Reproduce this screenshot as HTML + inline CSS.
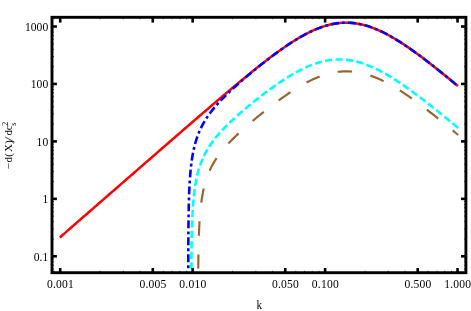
<!DOCTYPE html>
<html><head><meta charset="utf-8"><title>plot</title>
<style>
html,body{margin:0;padding:0;background:#fff;}
body{width:471px;height:311px;overflow:hidden;}
svg{display:block;}
text{font-family:"Liberation Serif",serif;font-size:11.6px;fill:#000;}
</style></head><body>
<svg width="471" height="311" viewBox="0 0 471 311">
<rect x="0" y="0" width="471" height="311" fill="#fff"/>
<defs><clipPath id="c"><rect x="52.0" y="17.3" width="413.9" height="251.5"/></clipPath></defs>
<g clip-path="url(#c)" fill="none" stroke-width="2" stroke-linejoin="round">
<path d="M59.80,237.44 L62.30,235.26 L64.81,233.08 L67.31,230.89 L69.82,228.71 L72.32,226.53 L74.82,224.35 L77.33,222.17 L79.83,219.99 L82.33,217.80 L84.84,215.62 L87.34,213.44 L89.85,211.26 L92.35,209.08 L94.85,206.90 L97.36,204.71 L99.86,202.53 L102.36,200.35 L104.87,198.17 L107.37,195.99 L109.88,193.81 L112.38,191.63 L114.88,189.45 L117.39,187.27 L119.89,185.09 L122.39,182.91 L124.90,180.73 L127.40,178.55 L129.91,176.37 L132.41,174.19 L134.91,172.01 L137.42,169.83 L139.92,167.65 L142.42,165.47 L144.93,163.29 L147.43,161.11 L149.94,158.94 L152.44,156.76 L154.94,154.58 L157.45,152.41 L159.95,150.23 L162.45,148.05 L164.96,145.88 L167.46,143.71 L169.97,141.53 L172.47,139.36 L174.97,137.19 L177.48,135.02 L179.98,132.85 L182.48,130.68 L184.99,128.52 L187.49,126.35 L190.00,124.19 L192.50,122.02 L195.00,119.86 L197.51,117.71 L200.01,115.55 L202.52,113.40 L205.02,111.24 L207.52,109.10 L210.03,106.95 L212.53,104.81 L215.03,102.67 L217.54,100.53 L220.04,98.40 L222.55,96.28 L225.05,94.16 L227.55,92.04 L230.06,89.93 L232.56,87.83 L235.06,85.73 L237.57,83.65 L240.07,81.57 L242.58,79.50 L245.08,77.43 L247.58,75.38 L250.09,73.35 L252.59,71.32 L255.09,69.31 L257.60,67.31 L260.10,65.33 L262.61,63.36 L265.11,61.42 L267.61,59.49 L270.12,57.59 L272.62,55.71 L275.12,53.86 L277.63,52.03 L280.13,50.23 L282.64,48.47 L285.14,46.74 L287.64,45.04 L290.15,43.38 L292.65,41.77 L295.15,40.20 L297.66,38.68 L300.16,37.20 L302.67,35.78 L305.17,34.42 L307.67,33.12 L310.18,31.87 L312.68,30.70 L315.18,29.59 L317.69,28.56 L320.19,27.60 L322.70,26.72 L325.20,25.91 L327.70,25.20 L330.21,24.56 L332.71,24.02 L335.22,23.57 L337.72,23.20 L340.22,22.93 L342.73,22.76 L345.23,22.68 L347.73,22.69 L350.24,22.80 L352.74,23.00 L355.25,23.29 L357.75,23.68 L360.25,24.16 L362.76,24.73 L365.26,25.38 L367.76,26.12 L370.27,26.94 L372.77,27.84 L375.28,28.82 L377.78,29.87 L380.28,31.00 L382.79,32.19 L385.29,33.44 L387.79,34.76 L390.30,36.13 L392.80,37.56 L395.31,39.04 L397.81,40.58 L400.31,42.15 L402.82,43.77 L405.32,45.43 L407.82,47.13 L410.33,48.87 L412.83,50.63 L415.34,52.43 L417.84,54.26 L420.34,56.11 L422.85,57.99 L425.35,59.89 L427.85,61.81 L430.36,63.75 L432.86,65.71 L435.37,67.69 L437.87,69.68 L440.37,71.69 L442.88,73.71 L445.38,75.74 L447.88,77.78 L450.39,79.84 L452.89,81.90 L455.40,83.97 L457.90,86.05" stroke="#f00" stroke-width="2.5"/>
<path d="M188.25,268.80 L188.25,268.79 L188.25,268.73 L188.25,268.58 L188.25,268.27 L188.25,267.78 L188.25,267.06 L188.25,266.09 L188.25,264.86 L188.26,263.36 L188.26,261.61 L188.27,259.62 L188.27,257.43 L188.28,255.07 L188.29,252.57 L188.30,249.97 L188.31,247.29 L188.32,244.57 L188.34,241.82 L188.35,239.08 L188.37,236.34 L188.39,233.64 L188.41,230.96 L188.44,228.33 L188.46,225.74 L188.49,223.20 L188.52,220.71 L188.55,218.28 L188.59,215.90 L188.63,213.58 L188.67,211.30 L188.71,209.08 L188.76,206.91 L188.80,204.80 L188.86,202.73 L188.91,200.70 L188.97,198.73 L189.03,196.79 L189.10,194.91 L189.17,193.06 L189.24,191.25 L189.32,189.48 L189.40,187.75 L189.48,186.05 L189.57,184.39 L189.66,182.76 L189.76,181.17 L189.86,179.60 L189.96,178.07 L190.07,176.56 L190.19,175.09 L190.31,173.64 L190.43,172.21 L190.56,170.81 L190.69,169.44 L190.83,168.09 L190.98,166.76 L191.12,165.45 L191.28,164.16 L191.44,162.90 L191.60,161.65 L191.77,160.43 L191.95,159.22 L192.13,158.03 L192.32,156.86 L192.51,155.70 L192.71,154.57 L192.92,153.44 L193.13,152.34 L193.35,151.24 L193.58,150.16 L193.81,149.10 L194.05,148.05 L194.29,147.01 L194.54,145.99 L194.80,144.97 L195.07,143.97 L195.34,142.98 L195.62,142.00 L195.91,141.04 L196.20,140.08 L196.50,139.13 L196.81,138.19 L197.13,137.26 L197.46,136.34 L197.79,135.43 L198.13,134.53 L198.48,133.64 L198.84,132.75 L199.20,131.87 L199.57,131.00 L199.96,130.13 L200.35,129.28 L200.74,128.42 L201.15,127.58 L201.57,126.74 L201.99,125.90 L202.43,125.07 L202.87,124.25 L203.32,123.43 L203.78,122.61 L204.26,121.80 L204.74,120.99 L205.23,120.18 L205.72,119.38 L206.23,118.58 L206.75,117.79 L207.28,117.00 L207.82,116.20 L208.37,115.42 L208.93,114.63 L209.50,113.84 L210.08,113.06 L210.67,112.27 L211.27,111.49 L211.88,110.71 L212.50,109.92 L213.13,109.14 L213.78,108.36 L214.43,107.58 L215.10,106.79 L215.77,106.01 L216.46,105.22 L217.16,104.43 L217.87,103.64 L218.59,102.85 L219.33,102.05 L220.07,101.26 L220.83,100.46 L221.60,99.65 L222.38,98.85 L223.18,98.04 L223.98,97.22 L224.80,96.41 L225.63,95.58 L226.48,94.76 L227.33,93.93 L228.20,93.09 L229.08,92.25 L229.98,91.41 L230.88,90.56 L231.80,89.70 L232.74,88.84 L233.68,87.97 L234.64,87.09 L235.62,86.21 L236.60,85.33 L237.60,84.43 L238.62,83.53 L239.64,82.63 L240.69,81.71 L241.74,80.79 L242.81,79.87 L243.90,78.93 L244.99,77.99 L246.11,77.04 L247.23,76.08 L248.38,75.12 L249.53,74.15 L250.70,73.17 L251.89,72.19 L253.09,71.19 L254.31,70.19 L255.54,69.19 L256.78,68.17 L258.04,67.15 L259.32,66.12 L260.61,65.09 L261.92,64.05 L263.24,63.00 L264.58,61.95 L265.94,60.89 L267.31,59.83 L268.70,58.76 L270.10,57.69 L271.52,56.61 L272.96,55.53 L274.41,54.45 L275.88,53.36 L277.36,52.28 L278.86,51.19 L280.38,50.10 L281.92,49.01 L283.47,47.92 L285.04,46.83 L286.63,45.75 L288.23,44.67 L289.85,43.60 L291.49,42.53 L293.15,41.47 L294.82,40.42 L296.51,39.38 L298.22,38.35 L299.95,37.34 L301.69,36.34 L303.46,35.35 L305.24,34.39 L307.04,33.45 L308.86,32.53 L310.69,31.63 L312.55,30.76 L314.42,29.92 L316.32,29.12 L318.23,28.35 L320.16,27.61 L322.11,26.92 L324.08,26.27 L326.06,25.66 L328.07,25.10 L330.10,24.59 L332.14,24.14 L334.21,23.74 L336.29,23.40 L338.40,23.12 L340.52,22.91 L342.67,22.76 L344.83,22.68 L347.02,22.68 L349.22,22.74 L351.45,22.88 L353.69,23.10 L355.96,23.39 L358.25,23.77 L360.55,24.22 L362.88,24.76 L365.23,25.37 L367.60,26.07 L369.99,26.85 L372.41,27.71 L374.84,28.65 L377.29,29.66 L379.77,30.76 L382.27,31.94 L384.79,33.19 L387.33,34.51 L389.89,35.91 L392.48,37.38 L395.09,38.91 L397.72,40.52 L400.37,42.19 L403.04,43.92 L405.74,45.71 L408.46,47.57 L411.20,49.48 L413.96,51.44 L416.75,53.46 L419.56,55.53 L422.39,57.64 L425.24,59.81 L428.12,62.02 L431.02,64.27 L433.95,66.57 L436.90,68.91 L439.87,71.28 L442.87,73.70 L445.88,76.15 L448.93,78.64 L451.99,81.16 L455.09,83.71 L458.20,86.30" stroke="#00f" stroke-width="2.6" stroke-dasharray="7.9 3.1 2.85 3.1" stroke-dashoffset="10.335"/>
<path d="M191.37,268.80 L191.37,268.80 L191.37,268.78 L191.37,268.73 L191.37,268.63 L191.37,268.46 L191.37,268.22 L191.38,267.88 L191.38,267.45 L191.38,266.89 L191.39,266.22 L191.39,265.42 L191.40,264.50 L191.40,263.44 L191.41,262.27 L191.42,260.99 L191.43,259.59 L191.45,258.10 L191.46,256.52 L191.48,254.87 L191.49,253.16 L191.51,251.39 L191.53,249.58 L191.56,247.74 L191.58,245.87 L191.61,243.99 L191.64,242.10 L191.67,240.21 L191.71,238.32 L191.75,236.44 L191.79,234.58 L191.83,232.72 L191.87,230.88 L191.92,229.07 L191.97,227.27 L192.03,225.50 L192.09,223.75 L192.15,222.02 L192.21,220.32 L192.28,218.65 L192.35,217.00 L192.43,215.38 L192.51,213.78 L192.59,212.20 L192.68,210.66 L192.77,209.13 L192.87,207.63 L192.97,206.16 L193.07,204.70 L193.18,203.27 L193.29,201.87 L193.41,200.48 L193.53,199.12 L193.66,197.78 L193.79,196.46 L193.93,195.15 L194.07,193.87 L194.22,192.61 L194.37,191.36 L194.53,190.14 L194.69,188.93 L194.86,187.74 L195.03,186.56 L195.21,185.40 L195.40,184.26 L195.59,183.13 L195.79,182.02 L195.99,180.92 L196.20,179.83 L196.42,178.76 L196.64,177.70 L196.87,176.66 L197.10,175.63 L197.35,174.61 L197.59,173.60 L197.85,172.60 L198.11,171.62 L198.38,170.65 L198.66,169.68 L198.94,168.73 L199.23,167.78 L199.53,166.85 L199.84,165.93 L200.15,165.01 L200.47,164.10 L200.80,163.20 L201.14,162.31 L201.48,161.43 L201.84,160.56 L202.20,159.69 L202.57,158.83 L202.94,157.97 L203.33,157.12 L203.72,156.28 L204.13,155.45 L204.54,154.61 L204.96,153.79 L205.39,152.97 L205.83,152.15 L206.27,151.34 L206.73,150.54 L207.19,149.74 L207.67,148.94 L208.15,148.14 L208.65,147.35 L209.15,146.56 L209.66,145.78 L210.19,145.00 L210.72,144.21 L211.26,143.44 L211.81,142.66 L212.37,141.88 L212.95,141.11 L213.53,140.34 L214.12,139.57 L214.73,138.80 L215.34,138.02 L215.97,137.25 L216.60,136.48 L217.25,135.71 L217.91,134.94 L218.58,134.17 L219.26,133.39 L219.95,132.62 L220.65,131.84 L221.37,131.07 L222.09,130.29 L222.83,129.50 L223.58,128.72 L224.34,127.93 L225.11,127.14 L225.90,126.35 L226.69,125.55 L227.50,124.75 L228.32,123.95 L229.16,123.14 L230.00,122.33 L230.86,121.52 L231.73,120.70 L232.62,119.87 L233.51,119.04 L234.42,118.21 L235.35,117.37 L236.28,116.53 L237.23,115.68 L238.19,114.82 L239.17,113.96 L240.16,113.10 L241.16,112.22 L242.17,111.35 L243.20,110.46 L244.25,109.57 L245.31,108.68 L246.38,107.78 L247.46,106.87 L248.56,105.95 L249.68,105.03 L250.80,104.11 L251.95,103.18 L253.11,102.24 L254.28,101.30 L255.46,100.35 L256.67,99.39 L257.88,98.43 L259.11,97.47 L260.36,96.50 L261.62,95.52 L262.90,94.54 L264.19,93.56 L265.50,92.57 L266.82,91.58 L268.16,90.58 L269.52,89.59 L270.89,88.59 L272.28,87.59 L273.68,86.59 L275.10,85.58 L276.53,84.58 L277.99,83.58 L279.45,82.58 L280.94,81.58 L282.44,80.59 L283.96,79.60 L285.49,78.61 L287.04,77.64 L288.61,76.66 L290.20,75.70 L291.80,74.75 L293.42,73.81 L295.06,72.88 L296.71,71.97 L298.38,71.07 L300.07,70.19 L301.78,69.33 L303.51,68.49 L305.25,67.67 L307.01,66.88 L308.79,66.12 L310.59,65.38 L312.40,64.68 L314.23,64.01 L316.09,63.38 L317.96,62.78 L319.85,62.23 L321.75,61.72 L323.68,61.25 L325.63,60.83 L327.59,60.46 L329.58,60.15 L331.58,59.89 L333.60,59.69 L335.64,59.55 L337.70,59.46 L339.78,59.45 L341.88,59.49 L344.00,59.61 L346.14,59.79 L348.30,60.05 L350.48,60.37 L352.68,60.77 L354.90,61.24 L357.14,61.78 L359.40,62.40 L361.68,63.09 L363.99,63.85 L366.31,64.69 L368.65,65.61 L371.01,66.59 L373.40,67.65 L375.80,68.78 L378.23,69.97 L380.68,71.24 L383.15,72.57 L385.64,73.97 L388.15,75.43 L390.68,76.96 L393.24,78.54 L395.82,80.19 L398.42,81.89 L401.04,83.65 L403.68,85.46 L406.34,87.32 L409.03,89.23 L411.74,91.19 L414.47,93.20 L417.23,95.25 L420.00,97.35 L422.80,99.49 L425.63,101.67 L428.47,103.89 L431.34,106.15 L434.23,108.44 L437.14,110.77 L440.08,113.14 L443.04,115.53 L446.03,117.97 L449.03,120.43 L452.07,122.92 L455.12,125.45 L458.20,128.00" stroke="#0ff" stroke-width="2.6" stroke-dasharray="7.2 3.27" stroke-dashoffset="0.66"/>
<path d="M198.25,268.80 L198.25,268.80 L198.25,268.79 L198.25,268.76 L198.25,268.70 L198.25,268.60 L198.25,268.45 L198.25,268.25 L198.25,267.98 L198.26,267.64 L198.26,267.23 L198.27,266.73 L198.27,266.14 L198.28,265.46 L198.29,264.70 L198.30,263.84 L198.31,262.90 L198.32,261.87 L198.33,260.77 L198.35,259.58 L198.37,258.33 L198.38,257.02 L198.41,255.65 L198.43,254.24 L198.45,252.78 L198.48,251.29 L198.51,249.76 L198.54,248.22 L198.57,246.65 L198.61,245.07 L198.65,243.49 L198.69,241.90 L198.74,240.30 L198.78,238.71 L198.83,237.13 L198.89,235.55 L198.94,233.98 L199.00,232.43 L199.07,230.88 L199.13,229.35 L199.20,227.84 L199.28,226.34 L199.35,224.86 L199.44,223.39 L199.52,221.94 L199.61,220.51 L199.70,219.10 L199.80,217.71 L199.90,216.33 L200.01,214.97 L200.12,213.63 L200.23,212.31 L200.35,211.01 L200.47,209.72 L200.60,208.45 L200.74,207.20 L200.87,205.96 L201.02,204.74 L201.17,203.54 L201.32,202.35 L201.48,201.18 L201.64,200.02 L201.81,198.88 L201.99,197.76 L202.17,196.65 L202.36,195.55 L202.55,194.46 L202.75,193.39 L202.95,192.33 L203.16,191.29 L203.38,190.26 L203.60,189.24 L203.83,188.23 L204.07,187.23 L204.31,186.25 L204.56,185.27 L204.81,184.31 L205.08,183.35 L205.35,182.41 L205.62,181.47 L205.91,180.55 L206.20,179.64 L206.50,178.73 L206.80,177.83 L207.11,176.94 L207.43,176.06 L207.76,175.19 L208.10,174.32 L208.44,173.46 L208.79,172.61 L209.15,171.77 L209.52,170.93 L209.90,170.10 L210.28,169.27 L210.67,168.45 L211.07,167.64 L211.48,166.83 L211.90,166.03 L212.33,165.23 L212.76,164.43 L213.21,163.64 L213.66,162.85 L214.12,162.07 L214.60,161.29 L215.08,160.52 L215.57,159.74 L216.07,158.97 L216.58,158.21 L217.09,157.44 L217.62,156.68 L218.16,155.92 L218.71,155.16 L219.27,154.40 L219.84,153.64 L220.41,152.89 L221.00,152.13 L221.60,151.37 L222.21,150.62 L222.83,149.86 L223.46,149.11 L224.10,148.35 L224.75,147.59 L225.42,146.84 L226.09,146.08 L226.77,145.32 L227.47,144.55 L228.18,143.79 L228.89,143.02 L229.62,142.25 L230.37,141.48 L231.12,140.70 L231.88,139.92 L232.66,139.14 L233.45,138.36 L234.25,137.57 L235.06,136.78 L235.88,135.98 L236.72,135.18 L237.57,134.37 L238.43,133.56 L239.30,132.75 L240.19,131.93 L241.09,131.10 L242.00,130.27 L242.92,129.43 L243.86,128.59 L244.81,127.74 L245.77,126.89 L246.75,126.03 L247.74,125.17 L248.74,124.29 L249.76,123.42 L250.79,122.53 L251.83,121.64 L252.89,120.74 L253.96,119.84 L255.05,118.93 L256.15,118.02 L257.26,117.09 L258.39,116.17 L259.53,115.23 L260.69,114.29 L261.86,113.34 L263.04,112.39 L264.24,111.43 L265.46,110.47 L266.69,109.50 L267.93,108.52 L269.19,107.54 L270.47,106.56 L271.76,105.57 L273.06,104.58 L274.38,103.58 L275.72,102.58 L277.07,101.58 L278.43,100.57 L279.82,99.57 L281.22,98.56 L282.63,97.55 L284.06,96.54 L285.51,95.54 L286.97,94.53 L288.45,93.53 L289.94,92.53 L291.45,91.53 L292.98,90.54 L294.53,89.56 L296.09,88.58 L297.67,87.62 L299.26,86.66 L300.87,85.71 L302.50,84.78 L304.15,83.86 L305.81,82.96 L307.49,82.08 L309.19,81.21 L310.90,80.37 L312.64,79.55 L314.39,78.76 L316.16,77.99 L317.94,77.25 L319.75,76.55 L321.57,75.87 L323.41,75.24 L325.27,74.64 L327.15,74.09 L329.04,73.57 L330.96,73.11 L332.89,72.69 L334.84,72.32 L336.81,72.01 L338.80,71.75 L340.81,71.55 L342.84,71.41 L344.88,71.33 L346.95,71.31 L349.03,71.36 L351.14,71.48 L353.26,71.67 L355.40,71.93 L357.56,72.26 L359.75,72.66 L361.95,73.13 L364.17,73.68 L366.41,74.30 L368.68,75.00 L370.96,75.77 L373.26,76.61 L375.58,77.53 L377.93,78.52 L380.29,79.59 L382.68,80.72 L385.08,81.92 L387.51,83.19 L389.96,84.53 L392.42,85.94 L394.91,87.41 L397.42,88.94 L399.96,90.53 L402.51,92.18 L405.08,93.89 L407.68,95.65 L410.30,97.47 L412.94,99.34 L415.60,101.25 L418.28,103.22 L420.99,105.23 L423.72,107.29 L426.47,109.40 L429.24,111.54 L432.03,113.73 L434.85,115.95 L437.69,118.21 L440.55,120.51 L443.43,122.85 L446.34,125.22 L449.27,127.62 L452.22,130.06 L455.20,132.52 L458.20,135.02" stroke="#996633" stroke-width="2.2" stroke-dasharray="14.4 18.74" stroke-dashoffset="0"/>
</g>
<g stroke="#000" stroke-width="2.6" fill="none">
<line x1="60.20" y1="272.7" x2="60.20" y2="268.0"/>
<line x1="60.20" y1="17.3" x2="60.20" y2="22.6"/>
<line x1="152.78" y1="272.7" x2="152.78" y2="268.0"/>
<line x1="152.78" y1="17.3" x2="152.78" y2="22.6"/>
<line x1="192.65" y1="272.7" x2="192.65" y2="268.0"/>
<line x1="192.65" y1="17.3" x2="192.65" y2="22.6"/>
<line x1="285.23" y1="272.7" x2="285.23" y2="268.0"/>
<line x1="285.23" y1="17.3" x2="285.23" y2="22.6"/>
<line x1="325.10" y1="272.7" x2="325.10" y2="268.0"/>
<line x1="325.10" y1="17.3" x2="325.10" y2="22.6"/>
<line x1="417.68" y1="272.7" x2="417.68" y2="268.0"/>
<line x1="417.68" y1="17.3" x2="417.68" y2="22.6"/>
<line x1="457.55" y1="272.7" x2="457.55" y2="268.0"/>
<line x1="457.55" y1="17.3" x2="457.55" y2="22.6"/>
<line x1="52.0" y1="26.50" x2="56.9" y2="26.50"/>
<line x1="465.9" y1="26.50" x2="461.0" y2="26.50"/>
<line x1="52.0" y1="83.95" x2="56.9" y2="83.95"/>
<line x1="465.9" y1="83.95" x2="461.0" y2="83.95"/>
<line x1="52.0" y1="141.40" x2="56.9" y2="141.40"/>
<line x1="465.9" y1="141.40" x2="461.0" y2="141.40"/>
<line x1="52.0" y1="198.85" x2="56.9" y2="198.85"/>
<line x1="465.9" y1="198.85" x2="461.0" y2="198.85"/>
<line x1="52.0" y1="256.30" x2="56.9" y2="256.30"/>
<line x1="465.9" y1="256.30" x2="461.0" y2="256.30"/>
</g>
<g stroke="#000" stroke-width="0.7" fill="none">
<line x1="54.14" y1="272.7" x2="54.14" y2="270.75"/>
<line x1="54.14" y1="17.3" x2="54.14" y2="19.25"/>
<line x1="100.07" y1="272.7" x2="100.07" y2="270.75"/>
<line x1="100.07" y1="17.3" x2="100.07" y2="19.25"/>
<line x1="123.39" y1="272.7" x2="123.39" y2="270.75"/>
<line x1="123.39" y1="17.3" x2="123.39" y2="19.25"/>
<line x1="139.94" y1="272.7" x2="139.94" y2="270.75"/>
<line x1="139.94" y1="17.3" x2="139.94" y2="19.25"/>
<line x1="152.78" y1="272.7" x2="152.78" y2="270.75"/>
<line x1="152.78" y1="17.3" x2="152.78" y2="19.25"/>
<line x1="163.27" y1="272.7" x2="163.27" y2="270.75"/>
<line x1="163.27" y1="17.3" x2="163.27" y2="19.25"/>
<line x1="172.13" y1="272.7" x2="172.13" y2="270.75"/>
<line x1="172.13" y1="17.3" x2="172.13" y2="19.25"/>
<line x1="179.81" y1="272.7" x2="179.81" y2="270.75"/>
<line x1="179.81" y1="17.3" x2="179.81" y2="19.25"/>
<line x1="186.59" y1="272.7" x2="186.59" y2="270.75"/>
<line x1="186.59" y1="17.3" x2="186.59" y2="19.25"/>
<line x1="232.52" y1="272.7" x2="232.52" y2="270.75"/>
<line x1="232.52" y1="17.3" x2="232.52" y2="19.25"/>
<line x1="255.84" y1="272.7" x2="255.84" y2="270.75"/>
<line x1="255.84" y1="17.3" x2="255.84" y2="19.25"/>
<line x1="272.39" y1="272.7" x2="272.39" y2="270.75"/>
<line x1="272.39" y1="17.3" x2="272.39" y2="19.25"/>
<line x1="285.23" y1="272.7" x2="285.23" y2="270.75"/>
<line x1="285.23" y1="17.3" x2="285.23" y2="19.25"/>
<line x1="295.72" y1="272.7" x2="295.72" y2="270.75"/>
<line x1="295.72" y1="17.3" x2="295.72" y2="19.25"/>
<line x1="304.58" y1="272.7" x2="304.58" y2="270.75"/>
<line x1="304.58" y1="17.3" x2="304.58" y2="19.25"/>
<line x1="312.26" y1="272.7" x2="312.26" y2="270.75"/>
<line x1="312.26" y1="17.3" x2="312.26" y2="19.25"/>
<line x1="319.04" y1="272.7" x2="319.04" y2="270.75"/>
<line x1="319.04" y1="17.3" x2="319.04" y2="19.25"/>
<line x1="364.97" y1="272.7" x2="364.97" y2="270.75"/>
<line x1="364.97" y1="17.3" x2="364.97" y2="19.25"/>
<line x1="388.29" y1="272.7" x2="388.29" y2="270.75"/>
<line x1="388.29" y1="17.3" x2="388.29" y2="19.25"/>
<line x1="404.84" y1="272.7" x2="404.84" y2="270.75"/>
<line x1="404.84" y1="17.3" x2="404.84" y2="19.25"/>
<line x1="417.68" y1="272.7" x2="417.68" y2="270.75"/>
<line x1="417.68" y1="17.3" x2="417.68" y2="19.25"/>
<line x1="428.17" y1="272.7" x2="428.17" y2="270.75"/>
<line x1="428.17" y1="17.3" x2="428.17" y2="19.25"/>
<line x1="437.03" y1="272.7" x2="437.03" y2="270.75"/>
<line x1="437.03" y1="17.3" x2="437.03" y2="19.25"/>
<line x1="444.71" y1="272.7" x2="444.71" y2="270.75"/>
<line x1="444.71" y1="17.3" x2="444.71" y2="19.25"/>
<line x1="451.49" y1="272.7" x2="451.49" y2="270.75"/>
<line x1="451.49" y1="17.3" x2="451.49" y2="19.25"/>
<line x1="52.0" y1="269.05" x2="53.95" y2="269.05"/>
<line x1="465.9" y1="269.05" x2="463.95" y2="269.05"/>
<line x1="52.0" y1="265.20" x2="53.95" y2="265.20"/>
<line x1="465.9" y1="265.20" x2="463.95" y2="265.20"/>
<line x1="52.0" y1="261.87" x2="53.95" y2="261.87"/>
<line x1="465.9" y1="261.87" x2="463.95" y2="261.87"/>
<line x1="52.0" y1="258.93" x2="53.95" y2="258.93"/>
<line x1="465.9" y1="258.93" x2="463.95" y2="258.93"/>
<line x1="52.0" y1="239.01" x2="53.95" y2="239.01"/>
<line x1="465.9" y1="239.01" x2="463.95" y2="239.01"/>
<line x1="52.0" y1="228.89" x2="53.95" y2="228.89"/>
<line x1="465.9" y1="228.89" x2="463.95" y2="228.89"/>
<line x1="52.0" y1="221.71" x2="53.95" y2="221.71"/>
<line x1="465.9" y1="221.71" x2="463.95" y2="221.71"/>
<line x1="52.0" y1="216.14" x2="53.95" y2="216.14"/>
<line x1="465.9" y1="216.14" x2="463.95" y2="216.14"/>
<line x1="52.0" y1="211.60" x2="53.95" y2="211.60"/>
<line x1="465.9" y1="211.60" x2="463.95" y2="211.60"/>
<line x1="52.0" y1="207.75" x2="53.95" y2="207.75"/>
<line x1="465.9" y1="207.75" x2="463.95" y2="207.75"/>
<line x1="52.0" y1="204.42" x2="53.95" y2="204.42"/>
<line x1="465.9" y1="204.42" x2="463.95" y2="204.42"/>
<line x1="52.0" y1="201.48" x2="53.95" y2="201.48"/>
<line x1="465.9" y1="201.48" x2="463.95" y2="201.48"/>
<line x1="52.0" y1="181.56" x2="53.95" y2="181.56"/>
<line x1="465.9" y1="181.56" x2="463.95" y2="181.56"/>
<line x1="52.0" y1="171.44" x2="53.95" y2="171.44"/>
<line x1="465.9" y1="171.44" x2="463.95" y2="171.44"/>
<line x1="52.0" y1="164.26" x2="53.95" y2="164.26"/>
<line x1="465.9" y1="164.26" x2="463.95" y2="164.26"/>
<line x1="52.0" y1="158.69" x2="53.95" y2="158.69"/>
<line x1="465.9" y1="158.69" x2="463.95" y2="158.69"/>
<line x1="52.0" y1="154.15" x2="53.95" y2="154.15"/>
<line x1="465.9" y1="154.15" x2="463.95" y2="154.15"/>
<line x1="52.0" y1="150.30" x2="53.95" y2="150.30"/>
<line x1="465.9" y1="150.30" x2="463.95" y2="150.30"/>
<line x1="52.0" y1="146.97" x2="53.95" y2="146.97"/>
<line x1="465.9" y1="146.97" x2="463.95" y2="146.97"/>
<line x1="52.0" y1="144.03" x2="53.95" y2="144.03"/>
<line x1="465.9" y1="144.03" x2="463.95" y2="144.03"/>
<line x1="52.0" y1="124.11" x2="53.95" y2="124.11"/>
<line x1="465.9" y1="124.11" x2="463.95" y2="124.11"/>
<line x1="52.0" y1="113.99" x2="53.95" y2="113.99"/>
<line x1="465.9" y1="113.99" x2="463.95" y2="113.99"/>
<line x1="52.0" y1="106.81" x2="53.95" y2="106.81"/>
<line x1="465.9" y1="106.81" x2="463.95" y2="106.81"/>
<line x1="52.0" y1="101.24" x2="53.95" y2="101.24"/>
<line x1="465.9" y1="101.24" x2="463.95" y2="101.24"/>
<line x1="52.0" y1="96.70" x2="53.95" y2="96.70"/>
<line x1="465.9" y1="96.70" x2="463.95" y2="96.70"/>
<line x1="52.0" y1="92.85" x2="53.95" y2="92.85"/>
<line x1="465.9" y1="92.85" x2="463.95" y2="92.85"/>
<line x1="52.0" y1="89.52" x2="53.95" y2="89.52"/>
<line x1="465.9" y1="89.52" x2="463.95" y2="89.52"/>
<line x1="52.0" y1="86.58" x2="53.95" y2="86.58"/>
<line x1="465.9" y1="86.58" x2="463.95" y2="86.58"/>
<line x1="52.0" y1="66.66" x2="53.95" y2="66.66"/>
<line x1="465.9" y1="66.66" x2="463.95" y2="66.66"/>
<line x1="52.0" y1="56.54" x2="53.95" y2="56.54"/>
<line x1="465.9" y1="56.54" x2="463.95" y2="56.54"/>
<line x1="52.0" y1="49.36" x2="53.95" y2="49.36"/>
<line x1="465.9" y1="49.36" x2="463.95" y2="49.36"/>
<line x1="52.0" y1="43.79" x2="53.95" y2="43.79"/>
<line x1="465.9" y1="43.79" x2="463.95" y2="43.79"/>
<line x1="52.0" y1="39.25" x2="53.95" y2="39.25"/>
<line x1="465.9" y1="39.25" x2="463.95" y2="39.25"/>
<line x1="52.0" y1="35.40" x2="53.95" y2="35.40"/>
<line x1="465.9" y1="35.40" x2="463.95" y2="35.40"/>
<line x1="52.0" y1="32.07" x2="53.95" y2="32.07"/>
<line x1="465.9" y1="32.07" x2="463.95" y2="32.07"/>
<line x1="52.0" y1="29.13" x2="53.95" y2="29.13"/>
<line x1="465.9" y1="29.13" x2="463.95" y2="29.13"/>
</g>
<rect x="52.0" y="17.3" width="413.9" height="255.39999999999998" fill="none" stroke="#000" stroke-width="2.9"/>
<g opacity="0.999">
<text transform="translate(60.45,287.90) scale(1.0,1.14)" text-anchor="middle" style="letter-spacing:0.2px">0.001</text>
<text transform="translate(153.03,287.90) scale(1.0,1.14)" text-anchor="middle" style="letter-spacing:0.2px">0.005</text>
<text transform="translate(192.90,287.90) scale(1.0,1.14)" text-anchor="middle" style="letter-spacing:0.2px">0.010</text>
<text transform="translate(285.48,287.90) scale(1.0,1.14)" text-anchor="middle" style="letter-spacing:0.2px">0.050</text>
<text transform="translate(325.35,287.90) scale(1.0,1.14)" text-anchor="middle" style="letter-spacing:0.2px">0.100</text>
<text transform="translate(417.93,287.90) scale(1.0,1.14)" text-anchor="middle" style="letter-spacing:0.2px">0.500</text>
<text transform="translate(457.80,287.90) scale(1.0,1.14)" text-anchor="middle" style="letter-spacing:0.2px">1.000</text>
<text transform="translate(48.20,30.70) scale(1.0,1.14)" text-anchor="end">1000</text>
<text transform="translate(48.20,88.15) scale(1.0,1.14)" text-anchor="end">100</text>
<text transform="translate(48.20,145.60) scale(1.0,1.14)" text-anchor="end">10</text>
<text transform="translate(48.20,203.05) scale(1.0,1.14)" text-anchor="end">1</text>
<text transform="translate(48.20,260.50) scale(1.0,1.14)" text-anchor="end">0.1</text>
<text transform="translate(259.4,308.6) scale(1,1.07)" text-anchor="middle" style="font-size:11.2px">k</text>
<text transform="translate(12.3,169.4) rotate(-90)" style="font-size:11px" x="0 7.0 12.6 17.3 25.3 34.0 39.2" y="0">&#8722;d(X)dc</text>
<line transform="translate(12.3,169.4) rotate(-90)" x1="27.3" y1="2.2" x2="32.4" y2="-7.1" stroke="#000" stroke-width="0.75"/>
<text transform="translate(12.3,169.4) rotate(-90)" style="font-size:8.2px"><tspan x="43.7" y="3.6">s</tspan><tspan x="43.7" y="-4.8">2</tspan></text>
</g>
</svg>
</body></html>
